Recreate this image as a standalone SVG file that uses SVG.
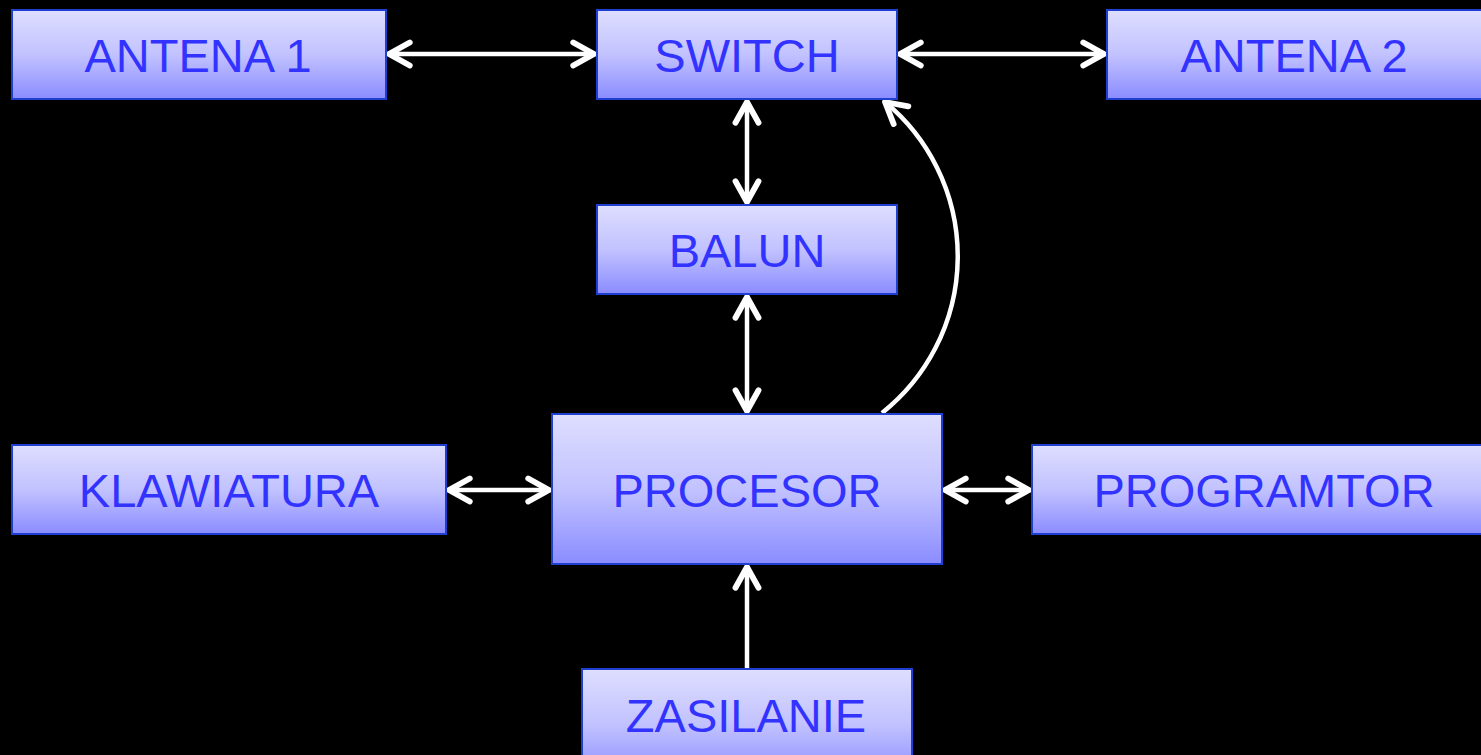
<svg xmlns="http://www.w3.org/2000/svg" width="1481" height="755" viewBox="0 0 1481 755">
<defs>
<linearGradient id="g" x1="0" y1="0" x2="0" y2="1">
<stop offset="0" stop-color="#dedeff"/>
<stop offset="0.5" stop-color="#c2c2ff"/>
<stop offset="1" stop-color="#8a8cff"/>
</linearGradient>
<marker id="ah" markerUnits="userSpaceOnUse" markerWidth="30" markerHeight="30" viewBox="-22 -13 26 26" refX="0" refY="0" orient="auto-start-reverse">
<path d="M-18,-10 L0,0 L-18,10" fill="none" stroke="#ffffff" stroke-width="5" stroke-linecap="round" stroke-linejoin="round"/>
</marker>
<style>
.box{fill:url(#g);stroke:#1f3fd0;stroke-width:2}
.t{font-family:"Liberation Sans",Arial,sans-serif;font-size:47px;fill:#3333ff;text-anchor:middle}
.c{fill:none;stroke:#ffffff;stroke-width:4.5}
</style>
</defs>
<rect width="1481" height="755" fill="#000000"/>
<g id="connectors">
<line class="c" x1="389" y1="54" x2="594" y2="54" marker-start="url(#ah)" marker-end="url(#ah)"/>
<line class="c" x1="900" y1="54" x2="1104" y2="54" marker-start="url(#ah)" marker-end="url(#ah)"/>
<line class="c" x1="747" y1="102" x2="747" y2="202" marker-start="url(#ah)" marker-end="url(#ah)"/>
<line class="c" x1="747" y1="297" x2="747" y2="411" marker-start="url(#ah)" marker-end="url(#ah)"/>
<line class="c" x1="449" y1="490" x2="549" y2="490" marker-start="url(#ah)" marker-end="url(#ah)"/>
<line class="c" x1="945" y1="490" x2="1029" y2="490" marker-start="url(#ah)" marker-end="url(#ah)"/>
<line class="c" x1="747" y1="670" x2="747" y2="567" marker-end="url(#ah)"/>
<path class="c" d="M882,413 A200,200 0 0 0 885,102" marker-end="url(#ah)"/>
</g>
<g id="antena1"><rect class="box" x="12" y="10" width="374" height="89"/><text class="t" x="198" y="72">ANTENA 1</text></g>
<g id="switch"><rect class="box" x="597" y="10" width="300" height="89"/><text class="t" x="747" y="72">SWITCH</text></g>
<g id="antena2"><rect class="box" x="1107" y="10" width="390" height="89"/><text class="t" x="1294" y="72">ANTENA 2</text></g>
<g id="balun"><rect class="box" x="597" y="205" width="300" height="89"/><text class="t" x="747" y="267">BALUN</text></g>
<g id="procesor"><rect class="box" x="552" y="414" width="390" height="150"/><text class="t" x="747" y="507">PROCESOR</text></g>
<g id="klawiatura"><rect class="box" x="12" y="445" width="434" height="89"/><text class="t" x="229" y="507">KLAWIATURA</text></g>
<g id="programtor"><rect class="box" x="1032" y="445" width="470" height="89"/><text class="t" x="1264" y="507">PROGRAMTOR</text></g>
<g id="zasilanie"><rect class="box" x="582" y="669" width="330" height="110"/><text class="t" x="746" y="732">ZASILANIE</text></g>
</svg>
